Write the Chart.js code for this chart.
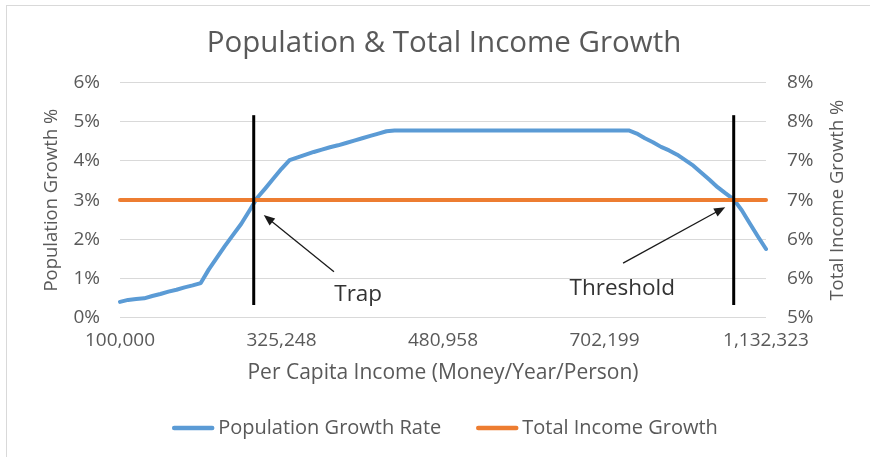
<!DOCTYPE html>
<html>
<head>
<meta charset="utf-8">
<script src="https://cdn.jsdelivr.net/npm/chart.js@4.4.1/dist/chart.umd.min.js"></script>
<style>
  html, body { margin: 0; padding: 0; background: #fff; }
  #wrap { width: 870px; height: 457px; position: relative; }
</style>
</head>
<body>
<div id="wrap"><canvas id="growthChart"></canvas></div>
<script>
// income labels shown on the x axis (every 20th step)
const incomeTicks = ['100,000', '325,248', '480,958', '702,199', '1,132,323'];
const tickEvery = 20;

// population growth % per step
const popGrowth = [
  0.40, 0.45, 0.47, 0.49, 0.55, 0.60, 0.66, 0.71, 0.77, 0.82,
  0.88, 1.23, 1.53, 1.83, 2.11, 2.39, 2.72, 3.06, 3.30, 3.55,
  3.80, 4.02, 4.09, 4.16, 4.23, 4.29, 4.35, 4.40, 4.46, 4.52,
  4.58, 4.64, 4.70, 4.76, 4.78, 4.78, 4.78, 4.78, 4.78, 4.78,
  4.78, 4.78, 4.78, 4.78, 4.78, 4.78, 4.78, 4.78, 4.78, 4.78,
  4.78, 4.78, 4.78, 4.78, 4.78, 4.78, 4.78, 4.78, 4.78, 4.78,
  4.78, 4.78, 4.78, 4.78, 4.70, 4.58, 4.48, 4.36, 4.27, 4.16,
  4.02, 3.88, 3.70, 3.52, 3.33, 3.17, 3.02, 2.74, 2.40, 2.07,
  1.75
];

// total income growth % (right axis), constant
const incomeGrowth = 6.5;

// annotations, in data units (x = step index, y = left axis %)
const markers = [16.56, 76.0];
const markerSpan = [0.32, 5.17];
const notes = [
  { text: 'Trap', at: [29.5, 0.58], from: [26.5, 1.17], to: [17.8, 2.62] },
  { text: 'Threshold', at: [62.2, 0.75], from: [62.3, 1.39], to: [74.95, 2.82] }
];

const labels = popGrowth.map((_, i) => (i % tickEvery === 0 ? incomeTicks[i / tickEvery] : ''));

const grey = '#595959';
const FONT = '"Open Sans", sans-serif';
Chart.defaults.font.family = FONT;
Chart.defaults.color = grey;

const notesPlugin = {
  id: 'notes',
  beforeDraw(chart) {
    const ctx = chart.ctx;
    ctx.save();
    ctx.strokeStyle = '#d9d9d9';
    ctx.lineWidth = 1;
    ctx.strokeRect(6.5, 5.5, 900, 500);
    ctx.restore();
  },
  afterDatasetsDraw(chart) {
    const { ctx, scales: { x, y } } = chart;
    ctx.save();

    ctx.strokeStyle = '#000';
    ctx.lineWidth = 3;
    markers.forEach(m => {
      const px = x.getPixelForValue(m);
      ctx.beginPath();
      ctx.moveTo(px, y.getPixelForValue(markerSpan[1]));
      ctx.lineTo(px, y.getPixelForValue(markerSpan[0]));
      ctx.stroke();
    });

    notes.forEach(n => {
      const x1 = x.getPixelForValue(n.from[0]), y1 = y.getPixelForValue(n.from[1]);
      const x2 = x.getPixelForValue(n.to[0]), y2 = y.getPixelForValue(n.to[1]);
      const ang = Math.atan2(y2 - y1, x2 - x1);
      const head = 12;
      ctx.strokeStyle = '#1a1a1a';
      ctx.fillStyle = '#1a1a1a';
      ctx.lineWidth = 1.3;
      ctx.beginPath();
      ctx.moveTo(x1, y1);
      ctx.lineTo(x2 - head * 0.8 * Math.cos(ang), y2 - head * 0.8 * Math.sin(ang));
      ctx.stroke();
      ctx.beginPath();
      ctx.moveTo(x2, y2);
      ctx.lineTo(x2 - head * Math.cos(ang - 0.38), y2 - head * Math.sin(ang - 0.38));
      ctx.lineTo(x2 - head * Math.cos(ang + 0.38), y2 - head * Math.sin(ang + 0.38));
      ctx.closePath();
      ctx.fill();

      ctx.fillStyle = '#333';
      ctx.font = '22.5px ' + FONT;
      ctx.textAlign = 'center';
      ctx.textBaseline = 'middle';
      ctx.fillText(n.text, x.getPixelForValue(n.at[0]), y.getPixelForValue(n.at[1]));
    });
    ctx.restore();
  },
  afterDraw(chart) {
    const { ctx, chartArea, scales: { y2 } } = chart;
    ctx.save();

    // right axis title reads bottom-to-top like the left one
    ctx.translate(y2.right - 32, (chartArea.top + chartArea.bottom) / 2);
    ctx.rotate(-Math.PI / 2);
    ctx.fillStyle = grey;
    ctx.font = '18.5px ' + FONT;
    ctx.textAlign = 'center';
    ctx.textBaseline = 'middle';
    ctx.fillText('Total Income Growth %', 0, 0);
    ctx.setTransform(1, 0, 0, 1, 0, 0);

    // legend
    const items = chart.data.datasets.map(d => ({ text: d.label, color: d.borderColor }));
    const sample = 42, gap = 4, between = 35, legendY = 428;
    ctx.font = '20px ' + FONT;
    ctx.textAlign = 'left';
    const widths = items.map(it => ctx.measureText(it.text).width);
    const total = widths.reduce((a, w) => a + sample + gap + w, 0) + between * (items.length - 1);
    let cx = 445 - total / 2;
    items.forEach((it, i) => {
      ctx.strokeStyle = it.color;
      ctx.lineWidth = 4.5;
      ctx.lineCap = 'round';
      ctx.beginPath();
      ctx.moveTo(cx + 2, legendY);
      ctx.lineTo(cx + sample - 2, legendY);
      ctx.stroke();
      cx += sample + gap;
      ctx.fillStyle = grey;
      ctx.fillText(it.text, cx, legendY);
      cx += widths[i] + between;
    });
    ctx.restore();
  }
};

new Chart(document.getElementById('growthChart'), {
  type: 'line',
  data: {
    labels,
    datasets: [{
      label: 'Population Growth Rate',
      data: popGrowth,
      yAxisID: 'y',
      borderColor: '#5b9bd5',
      backgroundColor: '#5b9bd5',
      borderWidth: 4,
      pointRadius: 0,
      tension: 0,
      borderCapStyle: 'round',
      borderJoinStyle: 'round',
      order: 2
    }, {
      label: 'Total Income Growth',
      data: popGrowth.map(() => incomeGrowth),
      yAxisID: 'y2',
      borderColor: '#ed7d31',
      backgroundColor: '#ed7d31',
      borderWidth: 4,
      pointRadius: 0,
      borderCapStyle: 'round',
      order: 1
    }]
  },
  options: {
    responsive: true,
    maintainAspectRatio: false,
    animation: false,
    devicePixelRatio: 1,
    layout: { padding: { left: 18, right: 0, top: 0, bottom: 69.5 } },
    plugins: {
      title: {
        display: true,
        text: 'Population & Total Income Growth',
        color: grey,
        font: { size: 29.5, weight: 'normal' },
        padding: { top: 26, bottom: 21.3 }
      },
      legend: { display: false },
      tooltip: { enabled: false }
    },
    scales: {
      x: {
        type: 'category',
        grid: { display: false, drawTicks: false },
        border: { display: false },
        ticks: { autoSkip: false, maxRotation: 0, padding: 12, color: grey, font: { size: 19 } },
        title: {
          display: true,
          text: 'Per Capita Income (Money/Year/Person)',
          color: grey,
          font: { size: 21 },
          padding: { top: 0, bottom: 2 }
        },
        afterFit: s => { s.height = 70; }
      },
      y: {
        position: 'left',
        min: 0,
        max: 6,
        ticks: { stepSize: 1, padding: 20, color: grey, font: { size: 19 }, callback: v => v + '%' },
        grid: { color: '#d9d9d9', drawTicks: false },
        border: { display: false },
        title: {
          display: true,
          text: 'Population Growth %',
          color: grey,
          font: { size: 18.5 },
          padding: { top: 23, bottom: 0 }
        },
        afterFit: s => { s.width = 102; }
      },
      y2: {
        position: 'right',
        min: 5,
        max: 8,
        ticks: { stepSize: 0.5, padding: 21, color: grey, font: { size: 19 }, callback: v => Math.round(v) + '%' },
        grid: { display: false, drawTicks: false },
        border: { display: false },
        afterFit: s => { s.width = 104; }
      }
    }
  },
  plugins: [notesPlugin]
});
</script>
</body>
</html>
